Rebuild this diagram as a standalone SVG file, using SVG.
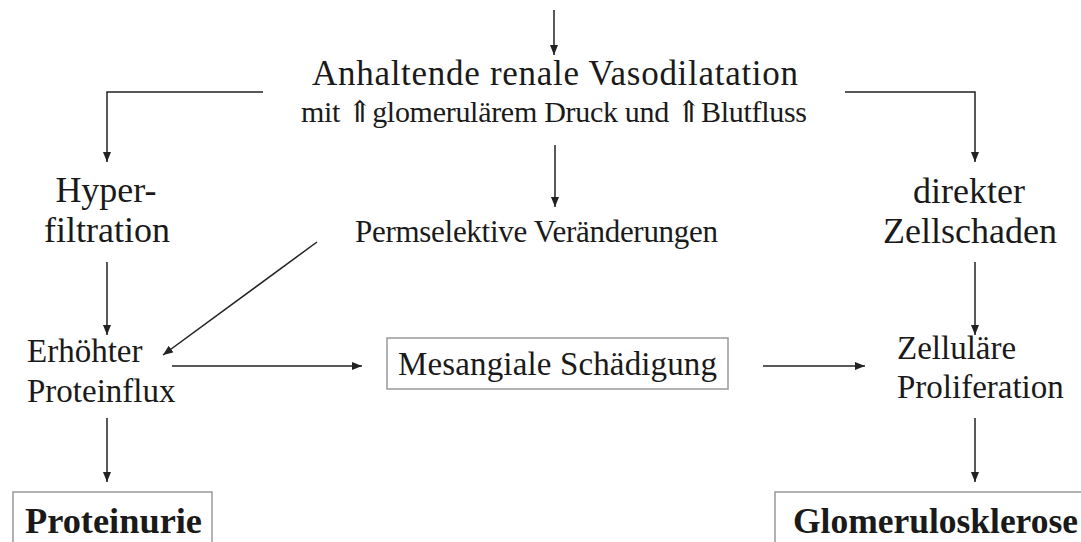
<svg xmlns="http://www.w3.org/2000/svg" width="1081" height="542" viewBox="0 0 1081 542">
<style>
text{font-family:"Liberation Serif","Times New Roman",serif;fill:#1a1a1a}
.b{font-weight:bold}
.c{text-anchor:middle}
.ar{font-family:"DejaVu Serif",serif;font-size:30px}
.ln{fill:none;stroke:#222;stroke-width:1.5}
.box{fill:#fff;stroke:#999;stroke-width:1.5}
</style>
<defs>
<marker id="ah" markerUnits="userSpaceOnUse" markerWidth="12" markerHeight="10" refX="10" refY="4" orient="auto">
<path d="M0,0 L10,4 L0,8 z" fill="#222"/>
</marker>
</defs>
<rect width="1081" height="542" fill="#fff"/>
<g id="connectors">
<line class="ln" x1="554" y1="10" x2="554" y2="55" marker-end="url(#ah)"/>
<polyline class="ln" points="263,92 107,92 107,162" marker-end="url(#ah)"/>
<polyline class="ln" points="845,92 975,92 975,162" marker-end="url(#ah)"/>
<line class="ln" x1="555" y1="145" x2="555" y2="207" marker-end="url(#ah)"/>
<line class="ln" x1="107" y1="262" x2="107" y2="335" marker-end="url(#ah)"/>
<line class="ln" x1="975" y1="262" x2="975" y2="335" marker-end="url(#ah)"/>
<line class="ln" x1="317" y1="242" x2="163" y2="355" marker-end="url(#ah)"/>
<line class="ln" x1="172" y1="366" x2="362" y2="366" marker-end="url(#ah)"/>
<line class="ln" x1="763" y1="366" x2="865" y2="366" marker-end="url(#ah)"/>
<line class="ln" x1="107" y1="418" x2="107" y2="482" marker-end="url(#ah)"/>
<line class="ln" x1="975" y1="418" x2="975" y2="482" marker-end="url(#ah)"/>
</g>
<g id="vasodilatation">
<text x="312" y="85" font-size="35" textLength="486" lengthAdjust="spacing">Anhaltende renale Vasodilatation</text>
<text x="301" y="122" font-size="30" textLength="506" lengthAdjust="spacing">mit <tspan class="ar">⇑</tspan>glomerulärem Druck und <tspan class="ar">⇑</tspan>Blutfluss</text>
</g>
<g id="hyperfiltration">
<text class="c" x="106" y="202" font-size="36">Hyper-</text>
<text class="c" x="107" y="242" font-size="36">filtration</text>
</g>
<g id="permselektiv">
<text x="355" y="242" font-size="31" textLength="363" lengthAdjust="spacing">Permselektive Veränderungen</text>
</g>
<g id="zellschaden">
<text class="c" x="969" y="203" font-size="36">direkter</text>
<text class="c" x="970" y="243" font-size="36">Zellschaden</text>
</g>
<g id="proteinflux">
<text x="27" y="362" font-size="33">Erhöhter</text>
<text x="27" y="402" font-size="33">Proteinflux</text>
</g>
<g id="mesangial">
<rect class="box" x="387" y="338" width="341" height="51"/>
<text x="398" y="375" font-size="33" textLength="319" lengthAdjust="spacing">Mesangiale Schädigung</text>
</g>
<g id="proliferation">
<text x="897" y="359" font-size="33">Zelluläre</text>
<text x="897" y="398" font-size="33">Proliferation</text>
</g>
<g id="proteinurie">
<rect class="box" x="13" y="492" width="199" height="70"/>
<text class="b" x="25" y="533" font-size="36" textLength="177" lengthAdjust="spacingAndGlyphs">Proteinurie</text>
</g>
<g id="glomerulosklerose">
<rect class="box" x="775" y="492" width="330" height="70"/>
<text class="b" x="793" y="533" font-size="36" textLength="285" lengthAdjust="spacingAndGlyphs">Glomerulosklerose</text>
</g>
</svg>
